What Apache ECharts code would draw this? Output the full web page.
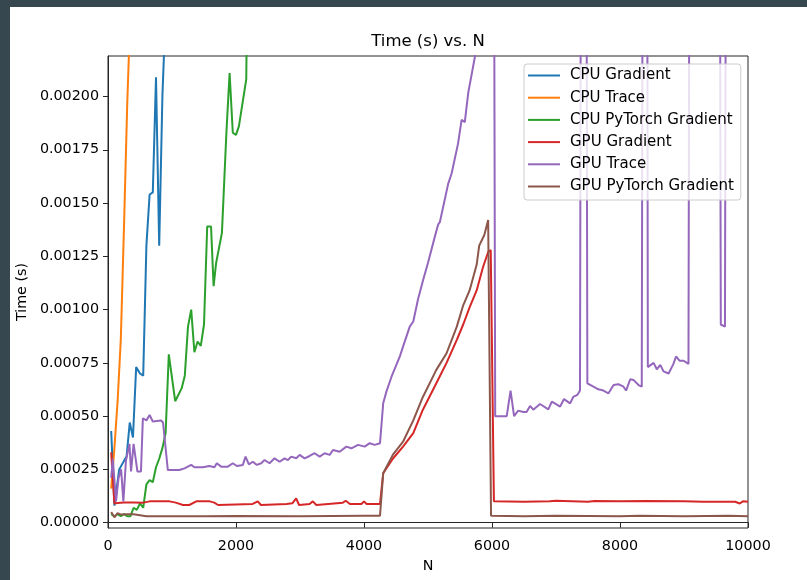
<!DOCTYPE html>
<html>
<head>
<meta charset="utf-8">
<script src="https://cdn.jsdelivr.net/npm/echarts@6/dist/echarts.min.js"></script>
<style>
  html, body { margin: 0; padding: 0; background: #37474f; width: 807px; height: 580px; overflow: hidden; }
  #c { position: absolute; left: 10px; top: 7px; width: 797px; height: 573px; background: #ffffff; }
</style>
</head>
<body>
<div id="c"></div>
<script>
// ---- Data (N, time in seconds) ----
const seriesNames = ['CPU Gradient', 'CPU Trace', 'CPU PyTorch Gradient', 'GPU Gradient', 'GPU Trace', 'GPU PyTorch Gradient'];
const seriesColors = ['#1f77b4', '#ff7f0e', '#2ca02c', '#d62728', '#9467bd', '#8c564b'];

const xTicks = [0, 2000, 4000, 6000, 8000, 10000];
const yTicks = [0, 0.00025, 0.0005, 0.00075, 0.001, 0.00125, 0.0015, 0.00175, 0.002];

const cpuGradient = [
  [50, 0.00043], [100, 0.00008], [175, 0.00025], [250, 0.00029], [290, 0.00031],
  [340, 0.00047], [390, 0.0004], [440, 0.00073], [500, 0.0007], [550, 0.00069],
  [600, 0.0013], [650, 0.00154], [700, 0.00155], [750, 0.00209], [800, 0.0013],
  [850, 0.002], [900, 0.0024], [950, 0.003]
];

const cpuTrace = [
  [50, 0.00016], [100, 0.00035], [150, 0.00057], [200, 0.00086], [250, 0.00139],
  [300, 0.00196], [350, 0.0024], [400, 0.0029]
];

const cpuTorchGradient = [
  [50, 0.00004], [100, 0.00003], [150, 0.00004], [200, 0.00003], [250, 0.00004],
  [300, 0.00003], [350, 0.00003], [400, 0.00007], [450, 0.00006], [500, 0.00009],
  [550, 0.00007], [600, 0.00018], [650, 0.0002], [700, 0.00019], [750, 0.00026],
  [800, 0.0003], [850, 0.00035], [900, 0.00042], [950, 0.00079], [1050, 0.00057],
  [1100, 0.0006], [1150, 0.00063], [1200, 0.00069], [1250, 0.00092], [1300, 0.001],
  [1350, 0.0008], [1400, 0.00085], [1450, 0.00083], [1500, 0.00093], [1550, 0.00139],
  [1610, 0.00139], [1650, 0.00111], [1690, 0.00122], [1780, 0.00136], [1850, 0.00183],
  [1900, 0.00211], [1950, 0.00183], [2000, 0.00182], [2045, 0.00186], [2160, 0.00208],
  [2200, 0.0032]
];

const gpuGradient = [
  [50, 0.00033], [100, 0.00009], [150, 0.000092], [250, 0.000095], [400, 0.000095],
  [550, 0.000094], [650, 0.0001], [800, 0.0001], [960, 0.0001], [1060, 0.000094],
  [1170, 0.000083], [1270, 0.000083], [1380, 0.0001], [1590, 0.0001], [1660, 0.000094],
  [1720, 0.000083], [2260, 0.000088], [2340, 0.0001], [2390, 0.000083], [2790, 0.000088],
  [2880, 0.000091], [2940, 0.000114], [2985, 0.000083], [3150, 0.000088], [3200, 0.0001],
  [3255, 0.000083], [3670, 0.000094], [3715, 0.000103], [3780, 0.000088], [3960, 0.000088],
  [4000, 0.0001], [4040, 0.000088], [4250, 0.000088], [4300, 0.000232], [4450, 0.0003],
  [4610, 0.000357], [4770, 0.00042], [4920, 0.00053], [5130, 0.000654], [5290, 0.00075],
  [5450, 0.000858], [5550, 0.00093], [5650, 0.00101], [5760, 0.00109], [5860, 0.0012],
  [5940, 0.00127], [5980, 0.00128], [6030, 0.0001], [6500, 0.000098], [6900, 0.0001],
  [7000, 0.000103], [7500, 0.000098], [7600, 0.000102], [8000, 0.0001], [8400, 0.000102],
  [9000, 0.0001], [9300, 0.000098], [9800, 0.000098], [9870, 0.00009], [9920, 0.0001],
  [10000, 0.000098]
];

const gpuTrace = [
  [50, 0.00021], [75, 0.0003], [125, 0.0001], [165, 0.00021], [205, 0.00025],
  [240, 0.0001], [280, 0.00029], [335, 0.00037], [360, 0.00024], [400, 0.00037],
  [460, 0.00024], [515, 0.00024], [545, 0.00049], [600, 0.00048], [650, 0.000505],
  [700, 0.000475], [830, 0.00048], [860, 0.00047], [935, 0.000247], [1115, 0.000247],
  [1195, 0.000255], [1300, 0.000271], [1350, 0.00026], [1480, 0.00026], [1585, 0.000266],
  [1663, 0.00026], [1700, 0.000279], [1768, 0.000263], [1872, 0.000263], [1950, 0.000279],
  [2013, 0.000266], [2107, 0.000271], [2149, 0.00031], [2201, 0.000274], [2263, 0.000286],
  [2326, 0.000271], [2393, 0.000279], [2446, 0.000294], [2524, 0.000279], [2602, 0.000302],
  [2681, 0.000286], [2759, 0.000302], [2811, 0.000294], [2863, 0.00031], [2942, 0.000302],
  [2994, 0.000318], [3072, 0.000302], [3150, 0.000313], [3229, 0.000326], [3307, 0.00031],
  [3385, 0.000326], [3464, 0.000318], [3516, 0.000341], [3620, 0.000333], [3724, 0.000357],
  [3803, 0.000349], [3907, 0.000365], [4011, 0.000357], [4089, 0.000373], [4167, 0.000365],
  [4250, 0.000373], [4300, 0.00056], [4350, 0.000615], [4430, 0.000685], [4560, 0.00078],
  [4610, 0.000826], [4715, 0.00092], [4770, 0.000944], [4845, 0.00105], [4925, 0.00114],
  [5000, 0.00122], [5105, 0.00134], [5160, 0.0014], [5185, 0.00141], [5315, 0.00159],
  [5370, 0.00164], [5470, 0.00178], [5525, 0.00189], [5575, 0.00188], [5630, 0.00202],
  [5680, 0.0021], [5735, 0.00219], [5800, 0.0024], [5900, 0.0026], [6030, 0.003],
  [6050, 0.0005], [6125, 0.0005], [6230, 0.0005], [6290, 0.00062], [6345, 0.0005],
  [6410, 0.000526], [6490, 0.000519], [6540, 0.000519], [6595, 0.000548], [6645, 0.00053],
  [6750, 0.000557], [6880, 0.000532], [6935, 0.000568], [7065, 0.000545], [7125, 0.00058],
  [7220, 0.00056], [7270, 0.00059], [7335, 0.0006], [7375, 0.00062], [7390, 0.003],
  [7475, 0.003], [7490, 0.000654], [7585, 0.000638], [7660, 0.000626], [7740, 0.00062],
  [7820, 0.000607], [7900, 0.000646], [7975, 0.00065], [8055, 0.000638], [8095, 0.00062],
  [8160, 0.000673], [8210, 0.00067], [8290, 0.000646], [8340, 0.000638], [8355, 0.003],
  [8425, 0.003], [8435, 0.00073], [8525, 0.00075], [8575, 0.00072], [8630, 0.00074],
  [8680, 0.00071], [8760, 0.0007], [8835, 0.000745], [8875, 0.00078], [8930, 0.00076],
  [8995, 0.00076], [9070, 0.000745], [9085, 0.003], [9560, 0.003], [9575, 0.00093],
  [9640, 0.00092], [9655, 0.003], [10000, 0.003]
];

const gpuTorchGradient = [
  [50, 0.00005], [100, 0.000025], [150, 0.000045], [200, 0.000038], [300, 0.00004],
  [400, 0.00004], [500, 0.000035], [600, 0.00003], [1000, 0.00003], [1500, 0.00003],
  [2000, 0.000031], [3000, 0.00003], [4000, 0.000033], [4250, 0.000033], [4300, 0.000232],
  [4450, 0.000318], [4610, 0.00038], [4770, 0.00048], [4920, 0.00059], [5130, 0.000717],
  [5290, 0.000795], [5450, 0.00092], [5550, 0.00102], [5650, 0.00109], [5760, 0.00121],
  [5800, 0.0013], [5880, 0.00135], [5940, 0.00142], [5985, 0.000032], [6500, 0.00003],
  [7000, 0.000032], [8000, 0.00003], [8300, 0.000032], [9000, 0.00003], [9700, 0.000032],
  [10000, 0.00003]
];

const allData = [cpuGradient, cpuTrace, cpuTorchGradient, gpuGradient, gpuTrace, gpuTorchGradient];

const FONT = 'DejaVu Sans';
const chart = echarts.init(document.getElementById('c'), null, { renderer: 'canvas' });

chart.setOption({
  animation: false,
  backgroundColor: '#ffffff',
  title: {
    text: 'Time (s) vs. N',
    left: 418, top: 26, textAlign: 'center', padding: 0,
    textStyle: { fontFamily: FONT, fontSize: 16.5, fontWeight: 'normal', color: '#000' }
  },
  grid: {
    left: 98, top: 49, right: 59, bottom: 52,
    outerBoundsMode: 'none', containLabel: false,
    show: true, borderColor: '#262626', borderWidth: 1, backgroundColor: 'transparent'
  },
  legend: {
    orient: 'vertical',
    left: 514, top: 57,
    padding: [3, 7, 5, 4],
    backgroundColor: 'rgba(255,255,255,0.8)',
    borderColor: '#cccccc', borderWidth: 1, borderRadius: 3,
    icon: 'rect', itemWidth: 32, itemHeight: 2, itemGap: 5.2,
    textStyle: { fontFamily: FONT, fontSize: 15, color: '#000', lineHeight: 17, padding: [0, 0, 0, 5] },
    data: seriesNames
  },
  xAxis: {
    type: 'value', min: 0, max: 10000, interval: 2000,
    name: 'N', nameLocation: 'middle', nameGap: 31,
    nameTextStyle: { fontFamily: FONT, fontSize: 14.3, color: '#000' },
    axisLine: { show: true, lineStyle: { color: '#262626', width: 1 } },
    axisTick: { show: true, inside: false, length: 5, lineStyle: { color: '#262626' } },
    axisLabel: { fontFamily: FONT, fontSize: 14.3, color: '#000', margin: 11, formatter: v => String(v) },
    splitLine: { show: false }
  },
  yAxis: {
    type: 'value', min: -0.000025, max: 0.00219,
    name: 'Time (s)', nameLocation: 'middle', nameGap: 78, nameRotate: 90,
    nameTextStyle: { fontFamily: FONT, fontSize: 14.3, color: '#000' },
    axisLine: { show: true, lineStyle: { color: '#262626', width: 1 } },
    axisTick: { show: true, inside: false, length: 5, lineStyle: { color: '#262626' }, customValues: yTicks },
    axisLabel: { fontFamily: FONT, fontSize: 14.3, color: '#000', margin: 9, customValues: yTicks, formatter: v => Number(v).toFixed(5) },
    splitLine: { show: false }
  },
  series: seriesNames.map((name, i) => ({
    name: name,
    type: 'line',
    data: allData[i],
    showSymbol: false,
    symbol: 'none',
    clip: true,
    color: seriesColors[i],
    lineStyle: { width: 2, color: seriesColors[i] },
    emphasis: { disabled: true }
  }))
});
</script>
</body>
</html>
